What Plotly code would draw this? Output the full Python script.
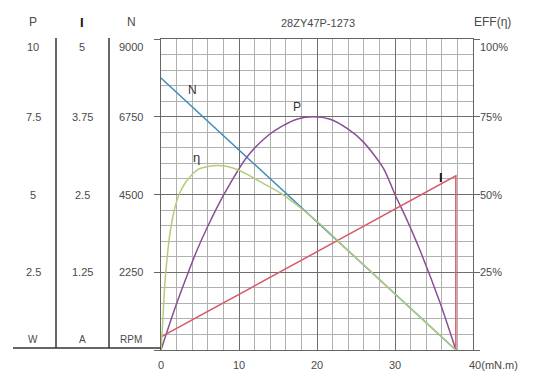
import plotly.graph_objects as go

# ---- data ----
torque_n = [0, 37.8]
speed_n = [7870, 0]

torque_i = [0, 37.8, 37.8]
current_i = [0.21, 2.80, 0]

torque_p = [0, 1.8, 3.5, 4.6, 6, 8, 11, 13.5, 15.7, 17.5, 19.5, 21.7, 24, 25.9, 28.5, 30, 31.5, 33.1, 35.8, 37.8]
power_p = [0, 1.35, 2.5, 3.2, 3.98, 4.97, 6.2, 6.85, 7.22, 7.43, 7.5, 7.42, 7.1, 6.7, 5.85, 5.0, 4.2, 3.27, 1.5, 0]

torque_e = [0, 0.2, 0.5, 0.8, 1.15, 1.8, 2.4, 3.1, 3.9, 4.7, 6, 7.3, 8.5, 10, 11.4, 13.5, 15.6, 18, 20.4, 24, 27, 30, 33, 35.5, 37.8]
eff_e = [0, 8, 21.5, 30, 37.6, 46, 50.5, 53.7, 56.2, 58, 59, 59.3, 59, 57.8, 56, 53, 50, 45.5, 40.5, 32, 25, 18, 11, 5.3, 0]

x_ticks = [0, 10, 20, 30]
x_last_label = "40(mN.m)"
n_ticks = [9000, 6750, 4500, 2250]
p_ticks = ["10", "7.5", "5", "2.5"]
i_ticks = ["5", "3.75", "2.5", "1.25"]
eff_ticks = ["100%", "75%", "50%", "25%"]
title_text = "28ZY47P-1273"

# ---- layout geometry (pixels) ----
W, H = 534, 374
L, R, T, B = 161, 473, 39, 350
PW, PH = R - L, B - T

def px(x):
    return (x - L) / PW

def py(y):
    return (B - y) / PH

FONT = "Liberation Sans, Arial, sans-serif"
TXT = "#4a4a4a"

fig = go.Figure()
fig.add_trace(go.Scatter(x=torque_n, y=speed_n, mode="lines",
                         line=dict(color="#3f8cbc", width=1.5), yaxis="y", showlegend=False))
fig.add_trace(go.Scatter(x=torque_p, y=power_p, mode="lines", line_shape="spline",
                         line=dict(color="#8a4f98", width=1.5, smoothing=0.8), yaxis="y2", showlegend=False))
fig.add_trace(go.Scatter(x=torque_i, y=current_i, mode="lines",
                         line=dict(color="#d95a6a", width=1.5), yaxis="y3", showlegend=False))
fig.add_trace(go.Scatter(x=torque_e, y=eff_e, mode="lines", line_shape="spline",
                         line=dict(color="#b3cd78", width=1.5), yaxis="y4", showlegend=False))

fig.update_layout(
    width=W, height=H,
    margin=dict(l=L, r=W - R, t=T, b=H - B, pad=0, autoexpand=False),
    paper_bgcolor="white", plot_bgcolor="white",
    font=dict(family=FONT, size=11, color=TXT),
    xaxis=dict(range=[0, 40], dtick=10, showticklabels=False, ticks="",
               showgrid=True, gridcolor="#6e6e6e", gridwidth=1,
               minor=dict(dtick=2, showgrid=True, gridcolor="#b0b0b0", gridwidth=1),
               showline=True, linecolor="#666666", linewidth=1, mirror=True, zeroline=False),
    yaxis=dict(range=[0, 9000], dtick=2250, showticklabels=False,
               ticks="outside", ticklen=6, tickcolor="#666666",
               showgrid=True, gridcolor="#6e6e6e", gridwidth=1,
               minor=dict(dtick=450, showgrid=True, gridcolor="#b0b0b0", gridwidth=1),
               showline=True, linecolor="#666666", linewidth=1, mirror="allticks", zeroline=False),
    yaxis2=dict(range=[0, 10], overlaying="y", visible=False),
    yaxis3=dict(range=[0, 5], overlaying="y", visible=False),
    yaxis4=dict(range=[0, 100], overlaying="y", visible=False),
)

ann = []
def text(xp, yp, s, size=11, color=TXT, anchor="center", bold=False):
    ann.append(dict(x=px(xp), y=py(yp), xref="paper", yref="paper", text=("<b>%s</b>" % s) if bold else s,
                    showarrow=False, xanchor=anchor, yanchor="middle",
                    font=dict(size=size, color=color, family=FONT)))

# headers
text(33, 22, "P", size=12)
text(82, 22, "I", size=13, color="#111111", bold=True)
text(131, 22, "N", size=12)
text(492, 22, "EFF(η)", size=12)
text(318, 23, title_text, size=11)

# left value columns + right efficiency labels
row_y = []
for v in n_ticks:
    yy = B - v / 9000 * PH
    row_y.append(yy + 8 if v == 9000 else yy)
for k in range(4):
    text(33, row_y[k], p_ticks[k])
    text(82, row_y[k], i_ticks[k])
    text(131, row_y[k], str(n_ticks[k]))
    text(478, row_y[k], eff_ticks[k], anchor="left")

# units
text(33, 339, "W", size=10)
text(82, 339, "A", size=10)
text(131, 339, "RPM", size=10)

# x labels
for v in x_ticks:
    text(L + v / 40 * PW, 365, str(v), size=11)
text(467, 365, x_last_label, size=11, anchor="left")

# curve labels
text(192, 90, "N", size=12, color="#333333")
text(297, 107, "P", size=12, color="#333333")
text(196, 157, "η", size=13, color="#333333")
text(441, 177, "I", size=13, color="#111111", bold=True)

fig.update_layout(annotations=ann)

shapes = [
    dict(type="line", xref="paper", yref="paper", x0=px(13), x1=px(L), y0=py(348), y1=py(348),
         line=dict(color="#333333", width=1.5)),
    dict(type="line", xref="paper", yref="paper", x0=px(56), x1=px(56), y0=py(38), y1=py(348),
         line=dict(color="#333333", width=1.5)),
    dict(type="line", xref="paper", yref="paper", x0=px(109), x1=px(109), y0=py(38), y1=py(348),
         line=dict(color="#333333", width=1.5)),
]
fig.update_layout(shapes=shapes)

fig.write_html("out.html", config={"displayModeBar": False},
               post_script="document.body.style.margin='0';document.body.style.padding='0';")
